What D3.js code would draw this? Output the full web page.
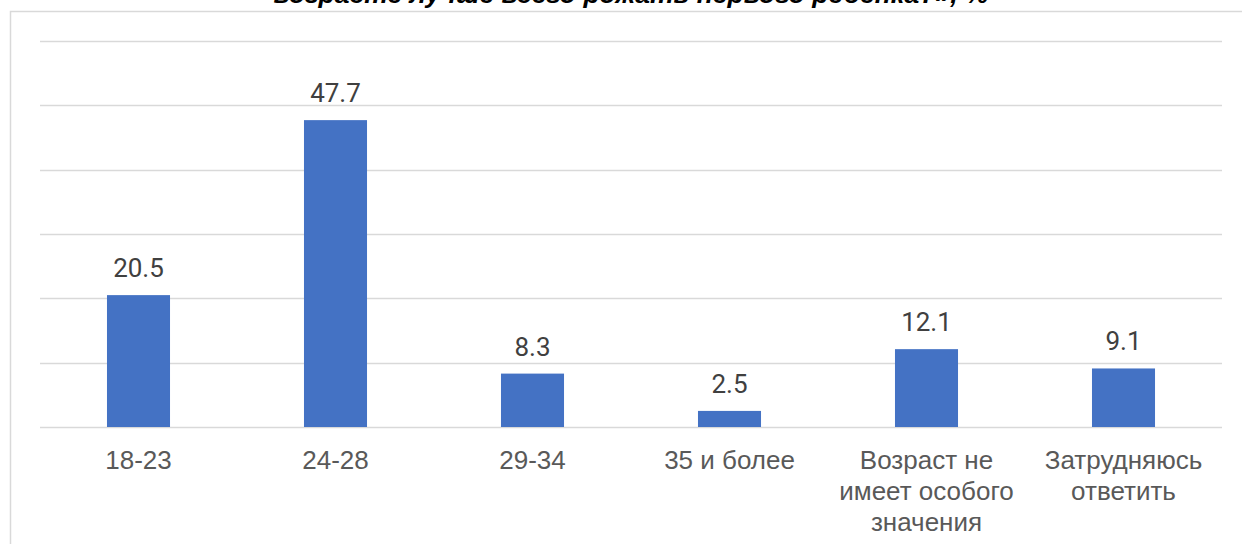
<!DOCTYPE html>
<html>
<head>
<meta charset="utf-8">
<script src="https://cdn.jsdelivr.net/npm/d3@7"></script>
<style>
  body { margin: 0; background: #fff; }
  svg { display: block; font-family: Roboto, "Liberation Sans", Arial, sans-serif; }
</style>
</head>
<body>
<div class="chart"></div>
<script>
// data
let categories = ['18-23', '24-28', '29-34', '35 и более', 'Возраст не имеет особого значения', 'Затрудняюсь ответить'];
let labelLines = [['18-23'], ['24-28'], ['29-34'], ['35 и более'], ['Возраст не', 'имеет особого', 'значения'], ['Затрудняюсь', 'ответить']];
let values = [20.5, 47.7, 8.3, 2.5, 12.1, 9.1];
let yTicks = [0, 10, 20, 30, 40, 50, 60];
let title = 'возрасте лучше всего рожать первого ребенка?», %';

let W = 1242, H = 544;
let margin = {top: 41, right: 20, bottom: 117, left: 40};
let width = W - margin.left - margin.right;
let height = H - margin.top - margin.bottom;

let root = d3.select('.chart')
	.append('svg')
	.attr('width', W)
	.attr('height', H);

// outer frame
root.append('rect')
	.attr('x', 10.5)
	.attr('y', 11.5)
	.attr('width', W + 20)
	.attr('height', H + 20)
	.style('fill', 'none')
	.style('stroke', '#d9d9d9')
	.style('stroke-width', 1.5);

// title, cut off at the top edge like in the source
root.append('text')
	.attr('x', 631)
	.attr('y', 3)
	.attr('text-anchor', 'middle')
	.style('font-family', '"Liberation Sans", Arial, sans-serif')
	.style('font-weight', 'bold')
	.style('font-style', 'italic')
	.style('font-size', '26.5px')
	.style('fill', '#000')
	.text(title);

let svg = root.append('g')
	.attr('transform', 'translate(' + margin.left + ', ' + margin.top + ')');

let yScale = d3.scaleLinear()
	.domain([0, 60])
	.range([height, 0]);

let xScale = d3.scaleBand()
	.domain(categories)
	.range([0, width])
	.paddingInner(0.68)
	.paddingOuter(0.34);

// gridlines
svg.append('g')
	.selectAll('line')
	.data(yTicks)
	.enter()
	.append('line')
	.attr('x1', 0)
	.attr('x2', width)
	.attr('y1', d => Math.round(yScale(d)) + 0.5)
	.attr('y2', d => Math.round(yScale(d)) + 0.5)
	.style('stroke', '#d9d9d9')
	.style('stroke-width', 1.5);

// bars
svg.append('g')
	.selectAll('rect')
	.data(values)
	.enter()
	.append('rect')
	.attr('x', (d, i) => xScale(categories[i]))
	.attr('y', d => yScale(d))
	.attr('width', xScale.bandwidth())
	.attr('height', d => height - yScale(d))
	.style('fill', '#4472c4');

// value labels
svg.append('g')
	.selectAll('text')
	.data(values)
	.enter()
	.append('text')
	.attr('x', (d, i) => xScale(categories[i]) + xScale.bandwidth() / 2)
	.attr('y', d => yScale(d) - 18)
	.attr('text-anchor', 'middle')
	.style('font-size', '26px')
	.style('fill', '#404040')
	.text(d => d.toFixed(1));

// x axis labels
let xAxis = d3.axisBottom(xScale).tickSize(0).tickPadding(0).tickFormat('');
let axisG = svg.append('g')
	.attr('transform', 'translate(0, ' + height + ')')
	.call(xAxis);
axisG.select('.domain').remove();

axisG.selectAll('.tick')
	.each(function(d, i) {
		let t = d3.select(this).append('text')
			.attr('text-anchor', 'middle')
			.attr('y', 41.5)
			.style('font-size', '26px')
			.style('fill', '#595959');
		labelLines[i].forEach((line, j) => {
			t.append('tspan')
				.attr('x', 0)
				.attr('dy', j === 0 ? 0 : 31)
				.text(line);
		});
	});
</script>
</body>
</html>
